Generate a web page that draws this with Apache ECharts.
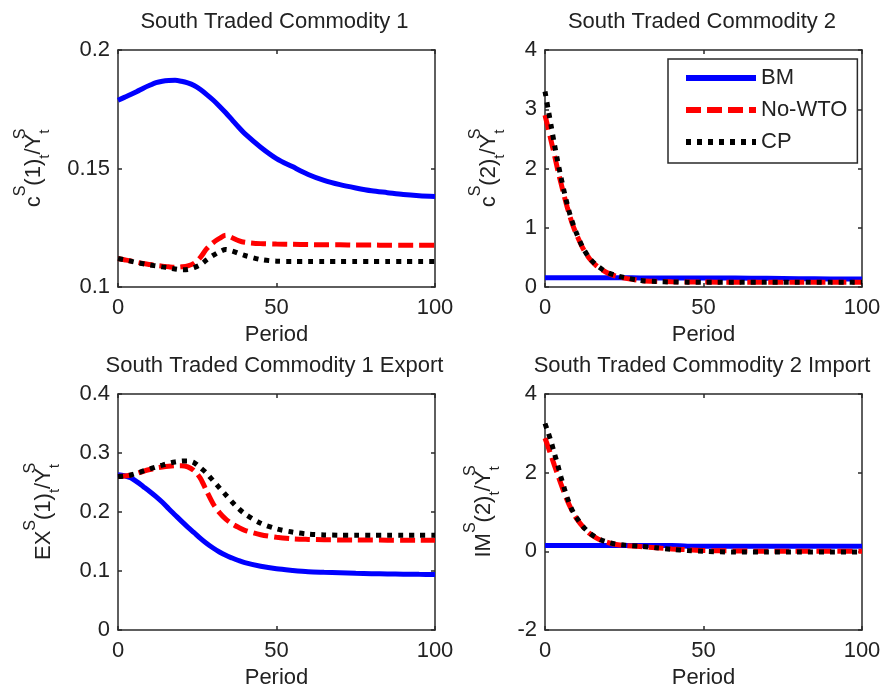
<!DOCTYPE html>
<html>
<head>
<meta charset="utf-8">
<script src="https://cdn.jsdelivr.net/npm/echarts@6/dist/echarts.min.js"></script>
<style>html,body{margin:0;padding:0;background:#fff}#c{width:885px;height:690px}</style>
</head>
<body>
<div id="c"></div>
<script>
// ---------- DATA ----------
const seriesNames = ['BM', 'No-WTO', 'CP'];
const titles = ['South Traded Commodity 1', 'South Traded Commodity 2',
                'South Traded Commodity 1 Export', 'South Traded Commodity 2 Import'];
const xTicks = [0, 50, 100];
const xName = 'Period';

const yTicksC1 = [0.1, 0.15, 0.2];
const yTicksC2 = [0, 1, 2, 3, 4];
const yTicksEX1 = [0, 0.1, 0.2, 0.3, 0.4];
const yTicksIM2 = [-2, 0, 2, 4];

// periods at which values were read (slow panels)
const periodsA = [0,2,4,6,8,10,12,14,16,18,20,22,24,26,28,30,32,34,36,38,40,45,50,55,60,65,70,75,80,85,90,95,100];
// periods at which values were read (fast-decay panels)
const periodsB = [0,1,2,3,4,5,6,7,8,9,10,12,14,16,18,20,22,25,30,35,40,45,50,60,70,80,90,100];

// Panel 1: c^S(1)/Y^S
const c1BM    = [0.1788,0.1800,0.1812,0.1825,0.1839,0.1851,0.1862,0.1868,0.1871,0.1872,0.1868,0.1861,0.1850,0.1833,0.1812,0.1789,0.1763,0.1735,0.1705,0.1675,0.1647,0.1590,0.1542,0.1508,0.1475,0.1450,0.1432,0.1418,0.1406,0.1398,0.1390,0.1385,0.1382];
const c1NoWTO = [0.1120,0.1115,0.1110,0.1104,0.1099,0.1095,0.1091,0.1088,0.1085,0.1083,0.1085,0.1089,0.1100,0.1125,0.1162,0.1187,0.1205,0.1218,0.1208,0.1196,0.1189,0.1183,0.1181,0.1180,0.1179,0.1178,0.1178,0.1177,0.1177,0.1176,0.1176,0.1176,0.1176];
const c1CP    = [0.1120,0.1115,0.1109,0.1103,0.1098,0.1093,0.1089,0.1085,0.1081,0.1076,0.1073,0.1074,0.1082,0.1094,0.1115,0.1133,0.1148,0.1158,0.1152,0.1142,0.1133,0.1116,0.1109,0.1108,0.1108,0.1108,0.1108,0.1108,0.1108,0.1108,0.1108,0.1108,0.1108];

// Panel 2: c^S(2)/Y^S
const c2BM    = [0.157,0.157,0.157,0.157,0.157,0.157,0.157,0.157,0.157,0.157,0.157,0.157,0.157,0.157,0.157,0.157,0.157,0.156,0.153,0.151,0.150,0.150,0.150,0.150,0.148,0.140,0.136,0.135];
const c2NoWTO = [2.90,2.68,2.45,2.22,1.98,1.76,1.55,1.35,1.17,1.01,0.88,0.65,0.48,0.37,0.29,0.23,0.19,0.15,0.11,0.095,0.088,0.085,0.083,0.082,0.082,0.082,0.082,0.082];
const c2CP    = [3.30,3.00,2.70,2.40,2.12,1.86,1.62,1.40,1.20,1.04,0.90,0.66,0.49,0.38,0.30,0.24,0.20,0.16,0.11,0.092,0.085,0.082,0.080,0.080,0.080,0.080,0.080,0.080];

// Panel 3: EX^S(1)/Y^S
const ex1BM    = [0.2630,0.2615,0.2580,0.2510,0.2430,0.2349,0.2262,0.2165,0.2055,0.1950,0.1845,0.1745,0.1650,0.1553,0.1465,0.1390,0.1322,0.1265,0.1220,0.1178,0.1142,0.1080,0.1037,0.1010,0.0988,0.0978,0.0970,0.0962,0.0955,0.0950,0.0946,0.0943,0.0941];
const ex1NoWTO = [0.2600,0.2610,0.2625,0.2655,0.2690,0.2720,0.2745,0.2762,0.2775,0.2783,0.2785,0.2765,0.2700,0.2570,0.2350,0.2140,0.1990,0.1880,0.1800,0.1740,0.1690,0.1615,0.1572,0.1545,0.1535,0.1530,0.1527,0.1525,0.1524,0.1523,0.1522,0.1521,0.1521];
const ex1CP    = [0.2600,0.2610,0.2628,0.2660,0.2695,0.2730,0.2765,0.2795,0.2825,0.2848,0.2862,0.2866,0.2835,0.2750,0.2655,0.2530,0.2410,0.2290,0.2170,0.2060,0.1970,0.1810,0.1715,0.1660,0.1625,0.1612,0.1607,0.1606,0.1606,0.1606,0.1606,0.1606,0.1606];

// Panel 4: IM^S(2)/Y^S
const im2BM    = [0.15,0.15,0.15,0.15,0.15,0.15,0.15,0.15,0.15,0.15,0.15,0.15,0.15,0.15,0.15,0.15,0.15,0.15,0.15,0.15,0.15,0.13,0.13,0.13,0.13,0.13,0.13,0.13];
const im2NoWTO = [2.88,2.65,2.42,2.18,1.95,1.72,1.50,1.30,1.12,0.96,0.83,0.62,0.46,0.35,0.27,0.22,0.18,0.15,0.12,0.09,0.06,0.04,0.02,0.01,0.0,0.0,0.0,0.0];
const im2CP    = [3.25,3.02,2.77,2.48,2.20,1.90,1.62,1.37,1.15,0.98,0.85,0.63,0.47,0.36,0.28,0.23,0.19,0.16,0.13,0.09,0.05,0.02,0.0,-0.02,-0.02,-0.02,-0.02,-0.02];

// y-axis names (rich text)
const yNames = [
  '{b|c}{sp|S}{b|(1)}{sb|t}{b|/Y}{sp0|S}{sb|t}',
  '{b|c}{sp|S}{b|(2)}{sb|t}{b|/Y}{sp0|S}{sb|t}',
  '{b|EX}{sp|S}{b|(1)}{sb|t}{b|/Y}{sp0|S}{sb|t}',
  '{b|IM}{sp|S}{b|(2)}{sb|t}{b|/Y}{sp0|S}{sb|t}'
];

// ---------- STYLE / LAYOUT ----------
const FONT = '"Liberation Sans", Arial, Helvetica, sans-serif';
const TXT = '#222';
const AX = '#2a2a2a';
const layout = [
  {left: 118, top: 50}, {left: 545, top: 50},
  {left: 118, top: 394}, {left: 545, top: 394}
].map(g => Object.assign(g, {width: 317, height: 237}));
const nameGaps = [63, 35, 53, 40];
const titlePos = [[274.5, 22], [702, 22], [274.5, 366], [702, 366]];

const lineStyles = [
  {color: '#0000ff', width: 5, type: 'solid'},
  {color: '#ff0000', width: 5, type: [15, 6]},
  {color: '#000000', width: 5, type: [5, 6]}
];

const panels = [
  {x: periodsA, ys: [c1BM, c1NoWTO, c1CP], yTicks: yTicksC1},
  {x: periodsB, ys: [c2BM, c2NoWTO, c2CP], yTicks: yTicksC2},
  {x: periodsA, ys: [ex1BM, ex1NoWTO, ex1CP], yTicks: yTicksEX1},
  {x: periodsB, ys: [im2BM, im2NoWTO, im2CP], yTicks: yTicksIM2}
];

const rich = {
  b:   {fontSize: 22, fontFamily: FONT, color: TXT},
  sp:  {fontSize: 16, fontFamily: FONT, color: TXT, padding: [0, 0, 26, 0]},
  sp0: {fontSize: 16, fontFamily: FONT, color: TXT, padding: [0, 0, 26, 0], width: 0},
  sb:  {fontSize: 15, fontFamily: FONT, color: TXT, padding: [21, 0, 0, 0]}
};

const axLine = {show: true, onZero: false, lineStyle: {color: AX, width: 1.5}};
const axTick = {show: true, inside: true, length: 4, lineStyle: {color: AX, width: 1.5}};
const labStyle = {fontSize: 22, fontFamily: FONT, color: TXT};

const grid = [], xAxis = [], yAxis = [], series = [];
const xMin = xTicks[0], xMax = xTicks[xTicks.length - 1], xInt = xTicks[1] - xTicks[0];

panels.forEach((p, i) => {
  grid.push(Object.assign({containLabel: false}, layout[i]));
  const yMin = p.yTicks[0], yMax = p.yTicks[p.yTicks.length - 1];
  const yInt = +(p.yTicks[1] - p.yTicks[0]).toFixed(6);
  xAxis[i] = {
    type: 'value', gridIndex: i, position: 'bottom', min: xMin, max: xMax, interval: xInt,
    axisLine: axLine, axisTick: axTick, splitLine: {show: false},
    axisLabel: Object.assign({margin: 10}, labStyle),
    name: xName, nameLocation: 'middle', nameGap: 37, nameTextStyle: labStyle
  };
  xAxis[i + 4] = {
    type: 'value', gridIndex: i, position: 'top', min: xMin, max: xMax, interval: xInt,
    axisLine: axLine, axisTick: axTick, splitLine: {show: false}, axisLabel: {show: false}
  };
  yAxis[i] = {
    type: 'value', gridIndex: i, position: 'left', min: yMin, max: yMax, interval: yInt,
    axisLine: axLine, axisTick: axTick, splitLine: {show: false},
    axisLabel: Object.assign({margin: 8}, labStyle),
    name: yNames[i], nameLocation: 'middle', nameRotate: 90, nameGap: nameGaps[i],
    nameTextStyle: {rich: rich}
  };
  yAxis[i + 4] = {
    type: 'value', gridIndex: i, position: 'right', min: yMin, max: yMax, interval: yInt,
    axisLine: axLine, axisTick: axTick, splitLine: {show: false}, axisLabel: {show: false}
  };
  p.ys.forEach((vals, k) => {
    series.push({
      type: 'line', name: seriesNames[k], xAxisIndex: i, yAxisIndex: i,
      data: p.x.map((t, j) => [t, vals[j]]),
      symbol: 'none', showSymbol: false, smooth: 0.3, clip: true,
      color: lineStyles[k].color,
      lineStyle: Object.assign({cap: 'butt'}, lineStyles[k]),
      z: 2 + k, animation: false
    });
  });
});

const chart = echarts.init(document.getElementById('c'), null, {renderer: 'canvas'});
chart.setOption({
  backgroundColor: '#fff',
  animation: false,
  grid: grid,
  xAxis: xAxis,
  yAxis: yAxis,
  series: series,
  legend: {
    data: seriesNames, orient: 'vertical', left: 668, top: 59,
    padding: [8, 10, 10, 15], itemGap: 10, itemWidth: 70, itemHeight: 14,
    backgroundColor: '#fff', borderColor: AX, borderWidth: 1.5, borderRadius: 0,
    textStyle: {fontSize: 22, fontFamily: FONT, color: TXT},
    lineStyle: {width: 6}, itemStyle: {opacity: 0}, selectedMode: false
  },
  graphic: titles.map((t, i) => ({
    type: 'text', x: titlePos[i][0], y: titlePos[i][1], silent: true,
    style: {text: t, fontSize: 22, fontFamily: FONT, fill: TXT, align: 'center', verticalAlign: 'middle'}
  }))
});
</script>
</body>
</html>
